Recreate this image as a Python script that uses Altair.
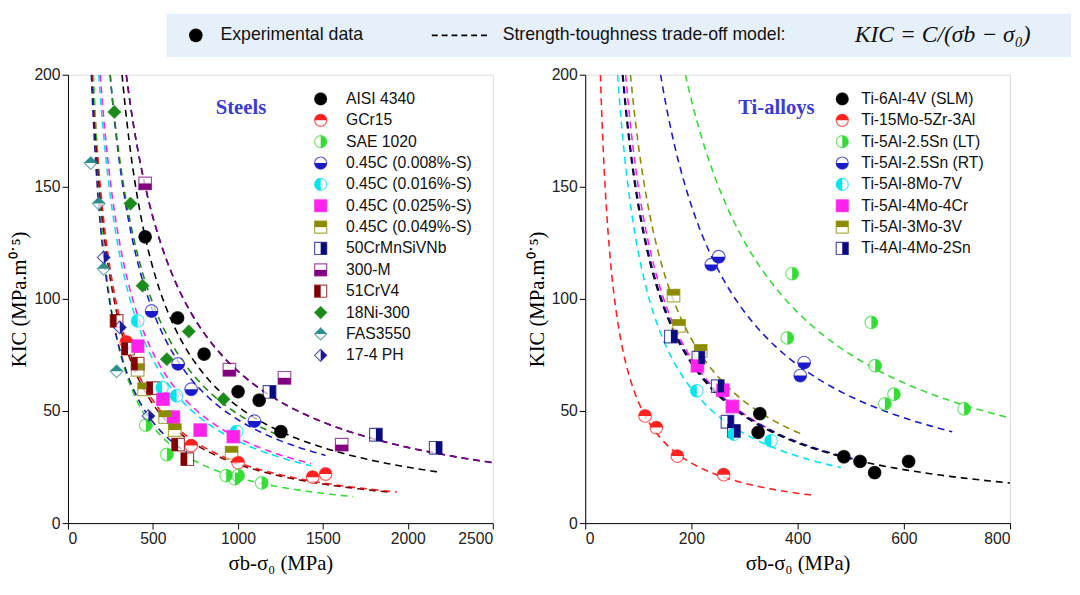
import altair as alt
import numpy as np
import pandas as pd

# ---------------- paths for half-filled markers ----------------
P = {
    "circle": "M-1,0 A1,1 0 1,0 1,0 A1,1 0 1,0 -1,0 Z",
    "circle_top": "M-1,0 A1,1 0 0,1 1,0 Z",
    "circle_bottom": "M-1,0 A1,1 0 0,0 1,0 Z",
    "circle_left": "M0,-1 A1,1 0 0,0 0,1 Z",
    "circle_right": "M0,-1 A1,1 0 0,1 0,1 Z",
    "square": "M-1,-1 L1,-1 L1,1 L-1,1 Z",
    "square_top": "M-1,-1 L1,-1 L1,0 L-1,0 Z",
    "square_bottom": "M-1,0 L1,0 L1,1 L-1,1 Z",
    "square_left": "M-1,-1 L0,-1 L0,1 L-1,1 Z",
    "square_right": "M0,-1 L1,-1 L1,1 L0,1 Z",
    "diamond": "M0,-1 L1,0 L0,1 L-1,0 Z",
    "diamond_top": "M-1,0 L0,-1 L1,0 Z",
    "diamond_right": "M0,-1 L1,0 L0,1 Z",
}

# ---------------- Steels ----------------
steel_names = ["AISI 4340", "GCr15", "SAE 1020", "0.45C (0.008%-S)", "0.45C (0.016%-S)",
               "0.45C (0.025%-S)", "0.45C (0.049%-S)", "50CrMnSiVNb", "300-M", "51CrV4",
               "18Ni-300", "FAS3550", "17-4 PH"]
steel_colors = ["#000000", "#ff2020", "#33dd33", "#1a1acc", "#00e5ee", "#ff22ee", "#8b8b00",
                "#0a0a80", "#800080", "#800000", "#1a8a1a", "#2a8c8c", "#1a1a99"]
steel_shapes = [("circle", "circle"), ("circle", "circle_top"), ("circle", "circle_right"),
                ("circle", "circle_bottom"), ("circle", "circle_left"), ("square", "square"),
                ("square", "square_top"), ("square", "square_right"), ("square", "square_bottom"),
                ("square", "square_left"), ("diamond", "diamond"), ("diamond", "diamond_top"),
                ("diamond", "diamond_right")]
steel_x = [
    [454, 645, 801, 1001, 1125, 1253],
    [343, 725, 1001, 1440, 1516],
    [458, 582, 931, 982, 1001, 1140],
    [492, 648, 725, 1097],
    [410, 553, 639, 992],
    [410, 559, 620, 778, 973],
    [410, 448, 572, 629, 963],
    [1186, 1812, 2164],
    [454, 950, 1274, 1611],
    [286, 353, 410, 500, 648, 702],
    [273, 368, 439, 582, 711, 915],
    [134, 181, 210, 286],
    [210, 305, 473],
]
steel_y = [
    [127.7, 91.5, 75.4, 58.6, 54.8, 40.8],
    [80.8, 34.6, 27.0, 20.5, 21.9],
    [43.7, 30.6, 21.2, 19.8, 21.2, 17.9],
    [94.6, 71.0, 59.7, 45.5],
    [90.2, 60.4, 56.8, 40.8],
    [78.9, 55.3, 47.3, 41.5, 38.6],
    [68.4, 59.7, 47.3, 41.5, 31.4],
    [58.5, 39.4, 33.6],
    [151.5, 68.4, 64.8, 35.0],
    [90.2, 77.8, 71.1, 60.2, 35.0, 28.5],
    [183.4, 142.5, 105.9, 73.1, 85.5, 55.3],
    [160.6, 142.5, 113.4, 67.7],
    [118.5, 87.3, 47.8],
]
# model K = C / (x - a), drawn up to x_end (None: no curve)
steel_C = [47890, 26670, 19200, 45100, 36660, 38000, None, 67320, 67320, 26000, 48320, None, 21090]
steel_a = [79, 12.8, 54, 22.5, -2.3, 0, None, 6.4, 6.4, 10, 6.4, None, 32]
steel_end = [2193, 1936, 1678, 1516, 1430, 1430, None, 2500, 2500, 1900, 1278, None, 700]

# ---------------- Ti alloys ----------------
ti_names = ["Ti-6Al-4V (SLM)", "Ti-15Mo-5Zr-3Al", "Ti-5Al-2.5Sn (LT)", "Ti-5Al-2.5Sn (RT)",
            "Ti-5Al-8Mo-7V", "Ti-5Al-4Mo-4Cr", "Ti-5Al-3Mo-3V", "Ti-4Al-4Mo-2Sn"]
ti_colors = ["#000000", "#ff2020", "#33dd33", "#1a1acc", "#00e5ee", "#ff22ee", "#8b8b00", "#0a0a80"]
ti_shapes = [("circle", "circle"), ("circle", "circle_top"), ("circle", "circle_right"),
             ("circle", "circle_bottom"), ("circle", "circle_left"), ("square", "square"),
             ("square", "square_top"), ("square", "square_right")]
ti_x = [
    [328.8, 325.6, 487, 517.5, 545, 609],
    [112.6, 134, 173.5, 260.6],
    [389.6, 380.5, 538.8, 546, 581.4, 564.3, 713.5],
    [237.4, 251.4, 404.9, 412.2],
    [210, 280, 350],
    [211.3, 258.8, 277],
    [166.2, 176.6, 217.4],
    [161.3, 213.1, 249.6, 267.9, 280],
]
ti_y = [
    [48.8, 40.5, 29.6, 27.5, 22.5, 27.5],
    [47.8, 42.6, 29.9, 21.6],
    [111.3, 82.6, 89.5, 70.2, 57.5, 53.2, 51.0],
    [115.3, 118.8, 65.8, 71.6],
    [59, 39.7, 36.7],
    [70.2, 59.3, 52],
    [101.5, 88, 76.8],
    [83.2, 73.8, 61.1, 45.2, 41.1],
]
ti_C = [14360, 5300, 37460, 28140, 11900, 14340, 15980, 14520]
ti_a = [-1.8, 2.1, 1.4, 1.2, 1.4, 4.4, 5.3, -1.4]
ti_end = [800, 426, 800, 691, 481, 356, 411, 508]


def build(names, colors, shapes, xs, ys, Cs, As, ends, xmax, xticks, leg_x, leg_tx, label):
    pts, curves, leg = [], [], []
    for i, n in enumerate(names):
        for x, y in zip(xs[i], ys[i]):
            pts.append({"s": n, "x": x, "y": y, "col": colors[i],
                        "o": P[shapes[i][0]], "f": P[shapes[i][1]], "i": i})
        leg.append({"s": n, "x": leg_x, "tx": leg_tx, "y": 189.2 - 9.53 * i, "col": colors[i],
                    "o": P[shapes[i][0]], "f": P[shapes[i][1]]})
        if Cs[i] is not None:
            x0 = As[i] + Cs[i] / 200.0
            xx = np.geomspace(x0, ends[i], 150)
            for x in xx:
                curves.append({"s": n, "x": x, "y": Cs[i] / (x - As[i]), "col": colors[i]})
    pts, curves, leg = pd.DataFrame(pts), pd.DataFrame(curves), pd.DataFrame(leg)

    xs_ = alt.Scale(domain=[0, xmax], nice=False)
    ys_ = alt.Scale(domain=[0, 200], nice=False)
    xa = alt.X("x:Q", scale=xs_, title="σb-σ₀ (MPa)",
               axis=alt.Axis(values=xticks, format="d", grid=False, tickSize=6, labelFontSize=16,
                             labelFont="Liberation Sans", titleFont="Liberation Serif",
                             titleFontSize=21, titleFontWeight="normal", domainColor="black",
                             tickColor="black", labelColor="#222", titlePadding=6))
    ya = alt.Y("y:Q", scale=ys_, title="KIC (MPa.m⁰˙⁵)",
               axis=alt.Axis(values=[0, 50, 100, 150, 200], grid=False, tickSize=6,
                             labelFontSize=16, labelFont="Liberation Sans",
                             titleFont="Liberation Serif", titleFontSize=21,
                             titleFontWeight="normal", domainColor="black", tickColor="black",
                             labelColor="#222"))
    line = alt.Chart(curves).mark_line(strokeDash=[7, 5], strokeWidth=1.6, clip=True).encode(
        x=xa, y=ya, detail="s:N", color=alt.Color("col:N", scale=None))
    outl = alt.Chart(pts).mark_point(filled=True, fill="white", size=165, strokeWidth=1.2).encode(
        x="x:Q", y="y:Q", shape=alt.Shape("o:N", scale=None), stroke=alt.Stroke("col:N", scale=None))
    fil = alt.Chart(pts).mark_point(filled=True, size=165, strokeWidth=0, opacity=1).encode(
        x="x:Q", y="y:Q", shape=alt.Shape("f:N", scale=None), fill=alt.Fill("col:N", scale=None))
    lo = alt.Chart(leg).mark_point(filled=True, fill="white", size=150, strokeWidth=1.2).encode(
        x="x:Q", y="y:Q", shape=alt.Shape("o:N", scale=None), stroke=alt.Stroke("col:N", scale=None))
    lf = alt.Chart(leg).mark_point(filled=True, size=150, strokeWidth=0, opacity=1).encode(
        x="x:Q", y="y:Q", shape=alt.Shape("f:N", scale=None), fill=alt.Fill("col:N", scale=None))
    lt = alt.Chart(leg).mark_text(align="left", baseline="middle", fontSize=16,
                                  font="Liberation Sans", color="#111").encode(
        x="tx:Q", y="y:Q", text="s:N")
    ttl = alt.Chart(pd.DataFrame({"x": [label[1]], "y": [185], "t": [label[0]]})).mark_text(
        align="center", baseline="middle", fontSize=21, fontWeight="bold",
        font="Liberation Serif", color="#3b3bd8").encode(x="x:Q", y="y:Q", text="t:N")
    return alt.layer(line, outl, fil, lo, lf, lt, ttl).properties(width=432, height=456)


left = build(steel_names, steel_colors, steel_shapes, steel_x, steel_y, steel_C, steel_a,
             steel_end, 2500, [0, 500, 1000, 1500, 2000, 2500], 1487, 1636, ("Steels", 1018))
right = build(ti_names, ti_colors, ti_shapes, ti_x, ti_y, ti_C, ti_a, ti_end, 800,
              [0, 200, 400, 600, 800], 484, 520, ("Ti-alloys", 360))

# ---------------- top banner ----------------
bdf = pd.DataFrame({"k": [0]})
base = alt.Chart(bdf)
banner = alt.layer(
    base.mark_rect(color="#e6f0fa").encode(x=alt.value(100), x2=alt.value(1020),
                                           y=alt.value(-8), y2=alt.value(36)),
    base.mark_point(filled=True, color="black", size=190, opacity=1).encode(
        x=alt.value(130), y=alt.value(14)),
    base.mark_text(align="left", fontSize=18, font="Liberation Sans", color="#111").encode(
        x=alt.value(155), y=alt.value(14), text=alt.value("Experimental data")),
    base.mark_rule(strokeDash=[6, 4], strokeWidth=1.8, color="black").encode(
        x=alt.value(370), x2=alt.value(430), y=alt.value(14)),
    base.mark_text(align="left", fontSize=18, font="Liberation Sans", color="#111").encode(
        x=alt.value(442), y=alt.value(14), text=alt.value("Strength-toughness trade-off model:")),
    base.mark_text(align="left", fontSize=24, font="Liberation Serif", fontStyle="italic",
                   color="#111").encode(
        x=alt.value(800), y=alt.value(14), text=alt.value("KIC = C/(σb − σ₀)")),
).properties(width=1020, height=36, view=alt.ViewBackground(stroke="transparent"))

chart = alt.vconcat(
    banner,
    alt.hconcat(left, right, spacing=32),
    spacing=8,
).configure_view(stroke="black", strokeWidth=1.2).configure(background="white", padding=0)

chart.save("out.html", embed_options={"renderer": "svg", "actions": False})
